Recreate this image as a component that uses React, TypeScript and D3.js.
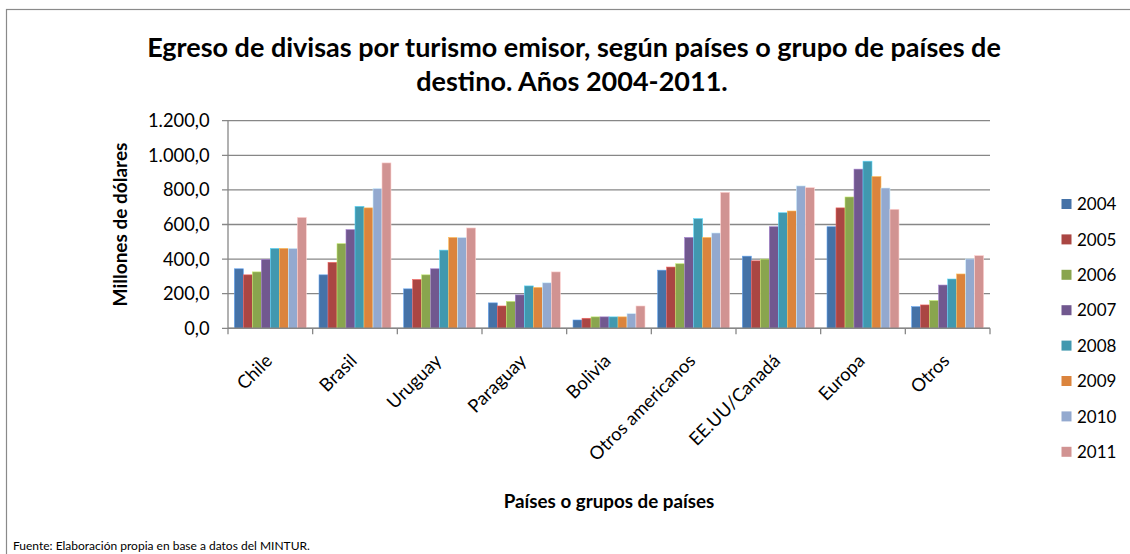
import React from "react";
import * as d3 from "d3";

const categories = ["Chile", "Brasil", "Uruguay", "Paraguay", "Bolivia", "Otros americanos", "EE.UU/Canadá", "Europa", "Otros"];
const years = ["2004", "2005", "2006", "2007", "2008", "2009", "2010", "2011"];
const v2004 = [344, 309, 228, 147, 48, 336, 417, 587, 125];
const v2005 = [309, 381, 282, 129, 58, 354, 390, 696, 135];
const v2006 = [326, 489, 309, 155, 66, 373, 400, 759, 160];
const v2007 = [398, 570, 344, 193, 66, 525, 587, 920, 250];
const v2008 = [462, 705, 452, 245, 66, 634, 668, 966, 285];
const v2009 = [462, 696, 525, 236, 66, 525, 678, 877, 314];
const v2010 = [462, 808, 525, 263, 85, 551, 823, 811, 401];
const v2011 = [641, 956, 580, 326, 129, 786, 813, 688, 420];
const seriesValues = [v2004, v2005, v2006, v2007, v2008, v2009, v2010, v2011];
const colors = ["#4572A7", "#AA4643", "#89A54E", "#71588F", "#4198AF", "#DB843D", "#93A9CF", "#D19392"];
const yTicks = [0, 200, 400, 600, 800, 1000, 1200];

const FONT = "Lato, 'Open Sans', sans-serif";

function fmt(v: number) {
  const s = v.toFixed(1).replace(".", ",");
  const [i, d] = s.split(",");
  return i.replace(/\B(?=(\d{3})+(?!\d))/g, ".") + "," + d;
}

export default function App() {
  const W = 1130, H = 554;
  const left = 228, right = 990, top = 120.7, bottom = 328.3;
  const y = d3.scaleLinear().domain([0, 1200]).range([bottom, top]);
  const x = d3.scaleBand<string>().domain(categories).range([left, right]).paddingInner(0).paddingOuter(0);
  const bw = x.bandwidth();
  const inner = d3.scaleBand<string>().domain(years).range([bw * 0.075, bw * 0.925]).padding(0);
  const grid = "#878787";

  return (
    <svg width={W} height={H} style={{ position: "absolute", left: 0, top: 0, background: "#fff" }} fontFamily={FONT}>
      <rect x={6.5} y={9.5} width={W + 10} height={H + 10} fill="#fff" stroke="#8a8a8a" strokeWidth={1.2} />
      <text x={574} y={57} textAnchor="middle" fontWeight={700} fontSize={27} fill="#000">
        Egreso de divisas por turismo emisor, según países o grupo de países de
      </text>
      <text x={572} y={91} textAnchor="middle" fontWeight={700} fontSize={27} fill="#000">
        destino. Años 2004-2011.
      </text>
      {yTicks.map((t) => (
        <g key={t}>
          <line x1={left - 6} x2={right} y1={y(t)} y2={y(t)} stroke={grid} strokeWidth={1.3} />
          <text x={209.5} y={y(t)} dy="0.35em" textAnchor="end" fontSize={18.3} fill="#000">
            {fmt(t)}
          </text>
        </g>
      ))}
      <line x1={left} x2={left} y1={top} y2={bottom} stroke={grid} strokeWidth={1.3} />
      {seriesValues.map((vals, si) =>
        vals.map((v, ci) => (
          <rect
            key={si + "-" + ci}
            x={(x(categories[ci]) as number) + (inner(years[si]) as number)}
            y={y(v)}
            width={inner.bandwidth()}
            height={bottom - y(v)}
            fill={colors[si]}
            stroke={d3.color(colors[si])!.brighter(1).formatHex()}
            strokeWidth={0.6}
          />
        ))
      )}
      <line x1={left} x2={right} y1={bottom} y2={bottom} stroke={grid} strokeWidth={1.5} />
      {categories.concat([""]).map((c, i) => {
        const xx = left + i * bw;
        return <line key={"t" + i} x1={xx} x2={xx} y1={bottom} y2={bottom + 6} stroke={grid} strokeWidth={1.3} />;
      })}
      {categories.map((c) => {
        const cx = (x(c) as number) + bw / 2 + 3;
        const cy = 362;
        return (
          <text key={c} x={cx} y={cy} textAnchor="end" fontSize={18.3} fill="#000" transform={`rotate(-45, ${cx}, ${cy})`}>
            {c}
          </text>
        );
      })}
      <text
        x={0}
        y={0}
        transform={`translate(126.5, ${(top + bottom) / 2}) rotate(-90)`}
        textAnchor="middle"
        fontWeight={700}
        fontSize={19}
        fill="#000"
      >
        Millones de dólares
      </text>
      <text x={(left + right) / 2} y={508} textAnchor="middle" fontWeight={700} fontSize={18.8} fill="#000">
        Países o grupos de países
      </text>
      {years.map((yr, i) => (
        <g key={yr}>
          <rect x={1061.5} y={204 + i * 35.4 - 5} width={10} height={10} fill={colors[i]} />
          <text x={1077} y={204 + i * 35.4} dy="0.36em" fontSize={17} fill="#000">
            {yr}
          </text>
        </g>
      ))}
      <text x={13} y={550} fontSize={12} fill="#000">
        Fuente: Elaboración propia en base a datos del MINTUR.
      </text>
    </svg>
  );
}
